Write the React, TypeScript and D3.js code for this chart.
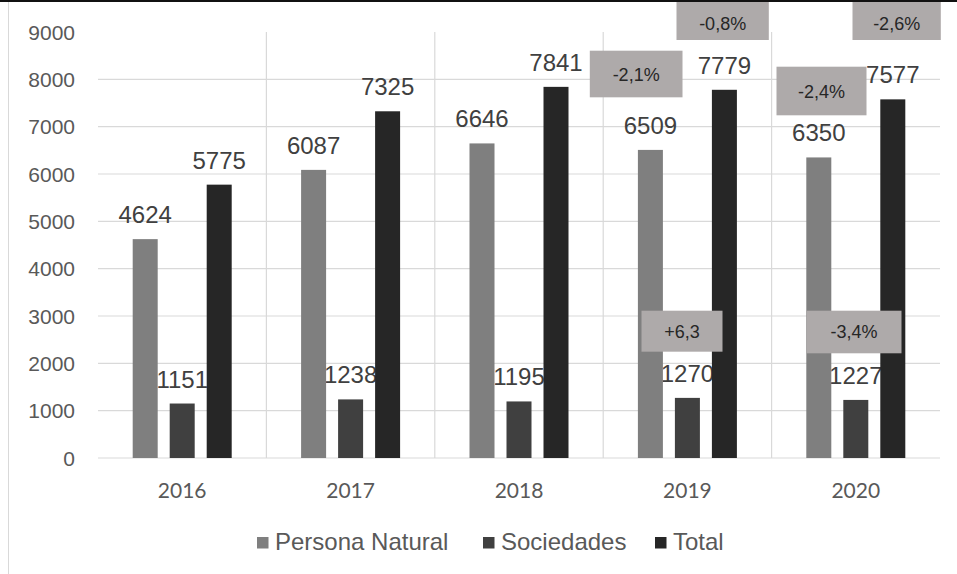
import React from 'react';
import * as d3 from 'd3';

const YEARS = ['2016', '2017', '2018', '2019', '2020'];
const PERSONA_NATURAL = [4624, 6087, 6646, 6509, 6350];
const SOCIEDADES = [1151, 1238, 1195, 1270, 1227];
const TOTAL = [5775, 7325, 7841, 7779, 7577];
const SERIES_NAMES = ['Persona Natural', 'Sociedades', 'Total'];
const Y_TICKS = [0, 1000, 2000, 3000, 4000, 5000, 6000, 7000, 8000, 9000];
const ANNOTATION_LABELS = ['-0,8%', '-2,6%', '-2,1%', '-2,4%', '+6,3', '-3,4%'];
const ANNOTATION_YEARS = ['2019', '2020', '2019', '2020', '2019', '2020'];

// layout (not data)
const W = 957;
const H = 574;
const PLOT = { left: 98, right: 940, top: 32, bottom: 458 };
const SERIES_COLORS = ['#7f7f7f', '#404040', '#262626'];
const BAR_GROUP_WIDTH = 99;
// annotation boxes: offset from band start (px), width (px), top/bottom in data units
const ANNOTATION_LAYOUT = [
  { dx: 73.3, w: 92.3, top: 9830, bottom: 8831 },
  { dx: 80.9, w: 88.3, top: 9830, bottom: 8831 },
  { dx: -13.4, w: 92.7, top: 8605, bottom: 7620 },
  { dx: 4.9, w: 90, top: 8267, bottom: 7240 },
  { dx: 38.3, w: 81, top: 3112, bottom: 2246 },
  { dx: 34.9, w: 95, top: 3112, bottom: 2212 },
];
const LEGEND_X = [257, 483, 655];

const FONT = "'Liberation Sans', Arial, sans-serif";

export default function App() {
  const x0 = d3.scaleBand<string>().domain(YEARS).range([PLOT.left, PLOT.right]).paddingInner(0).paddingOuter(0);
  const x1 = d3
    .scaleBand<string>()
    .domain(SERIES_NAMES)
    .range([0, BAR_GROUP_WIDTH])
    .paddingInner(12 / 37)
    .paddingOuter(0);
  const y = d3.scaleLinear().domain([0, 9000]).range([PLOT.bottom, PLOT.top]);
  const seriesValues = [PERSONA_NATURAL, SOCIEDADES, TOTAL];

  const barX = (yearIdx: number, sIdx: number) => {
    const c = (x0(YEARS[yearIdx]) as number) + x0.bandwidth() / 2;
    return c - BAR_GROUP_WIDTH / 2 + (x1(SERIES_NAMES[sIdx]) as number);
  };

  const interior = YEARS.slice(1).map((yr) => x0(yr) as number);

  return (
    <svg
      width={W}
      height={H}
      style={{ position: 'fixed', left: 0, top: 0, display: 'block', background: '#fff' }}
    >
      <rect x={0} y={0} width={W} height={H} fill="#ffffff" />
      {/* gridlines */}
      {Y_TICKS.filter((t) => t < 9000).map((t) => (
        <line key={'h' + t} x1={PLOT.left} x2={PLOT.right} y1={y(t)} y2={y(t)} stroke="#d9d9d9" strokeWidth={1.2} />
      ))}
      {interior.map((xx, i) => (
        <line key={'v' + i} x1={xx} x2={xx} y1={PLOT.top} y2={PLOT.bottom} stroke="#d9d9d9" strokeWidth={1.2} />
      ))}
      {/* y tick labels */}
      {Y_TICKS.map((t) => (
        <text key={'yt' + t} x={75} y={y(t) + 7.5} textAnchor="end" fontFamily={FONT} fontSize={21} fill="#595959">
          {t}
        </text>
      ))}
      {/* x labels */}
      {YEARS.map((yr) => (
        <text
          key={'xl' + yr}
          x={(x0(yr) as number) + x0.bandwidth() / 2}
          y={498}
          textAnchor="middle"
          fontFamily="Lato, 'Open Sans', sans-serif"
          fontSize={21}
          fill="#595959"
        >
          {yr}
        </text>
      ))}
      {/* value labels (under bars) */}
      {seriesValues.map((vals, s) =>
        vals.map((v, i) => (
          <text
            key={'vl' + s + '-' + i}
            x={barX(i, s) + x1.bandwidth() / 2}
            y={y(v) - 16}
            textAnchor="middle"
            fontFamily={FONT}
            fontSize={24}
            fill="#404040"
          >
            {v}
          </text>
        ))
      )}
      {/* bars */}
      {seriesValues.map((vals, s) =>
        vals.map((v, i) => (
          <rect
            key={'b' + s + '-' + i}
            x={barX(i, s)}
            y={y(v)}
            width={x1.bandwidth()}
            height={y(0) - y(v)}
            fill={SERIES_COLORS[s]}
          />
        ))
      )}
      {/* annotations */}
      {ANNOTATION_LABELS.map((lab, i) => {
        const L = ANNOTATION_LAYOUT[i];
        const bx = (x0(ANNOTATION_YEARS[i]) as number) + L.dx;
        const by = y(L.top);
        const bh = y(L.bottom) - y(L.top);
        return (
          <g key={'an' + i}>
            <rect x={bx} y={by} width={L.w} height={bh} fill="#aeaaaa" />
            <text
              x={bx + L.w / 2}
              y={(i < 2 ? 23.5 : by + bh / 2) + 6.5}
              textAnchor="middle"
              fontFamily={FONT}
              fontSize={18}
              fill="#262626"
            >
              {lab}
            </text>
          </g>
        );
      })}
      {/* legend */}
      {SERIES_NAMES.map((name, i) => (
        <g key={'lg' + i}>
          <rect x={LEGEND_X[i]} y={537} width={11.5} height={11.5} fill={SERIES_COLORS[i]} />
          <text x={LEGEND_X[i] + 18} y={549.5} fontFamily={FONT} fontSize={24} fill="#595959">
            {name}
          </text>
        </g>
      ))}
      {/* frame */}
      <line x1={8.5} x2={8.5} y1={2} y2={H} stroke="#d9d9d9" strokeWidth={1} />
      <rect x={0} y={0} width={W} height={2} fill="#111" />
    </svg>
  );
}
